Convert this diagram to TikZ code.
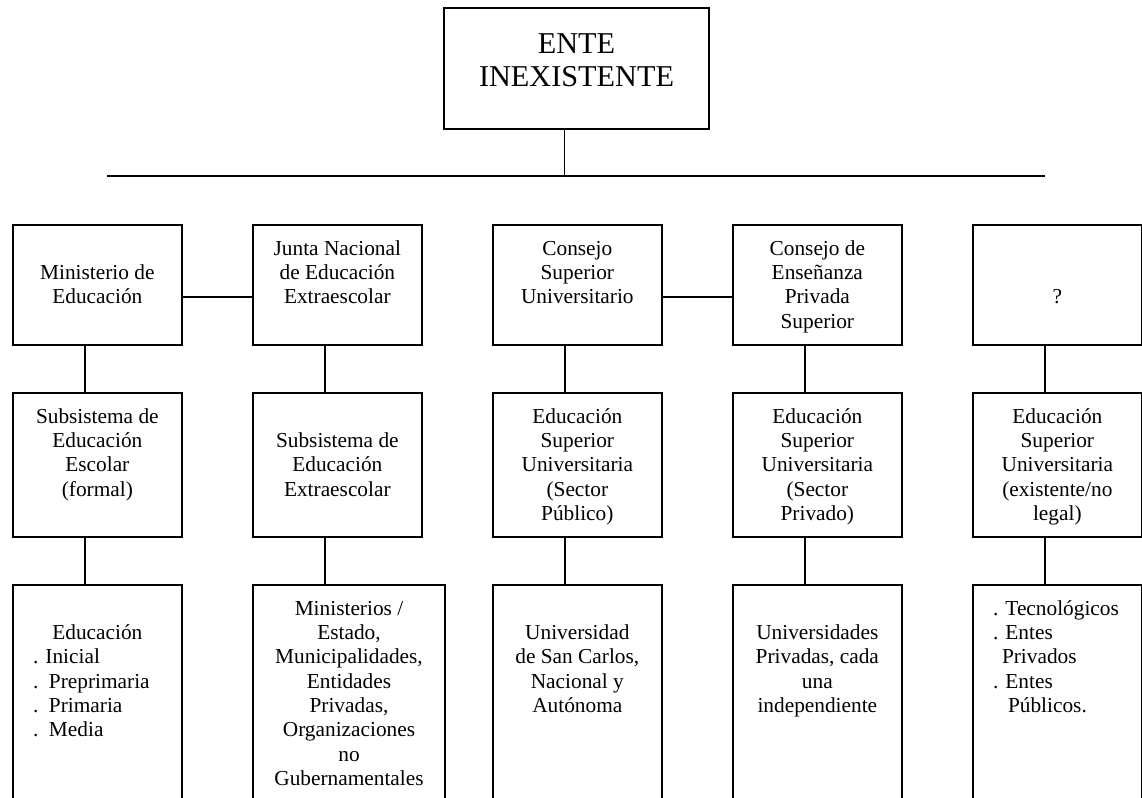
\documentclass[tikz,border=0pt]{standalone}
\usepackage{fontspec}
\setmainfont{Liberation Serif}

% text of a box: top aligned, one line per \\
\newcommand{\cajatexto}[3]{\parbox[c][#2][t]{#1}{\centering\vspace*{10.1pt}\strut#3\par}}

\begin{document}
\begin{tikzpicture}[x=0.75pt, y=-0.75pt, font=\fontsize{16}{18.2}\selectfont,
	caja/.style={draw, line width=1.5pt, inner sep=0pt, anchor=north west},
	enlace/.style={line width=1.4pt}]
	\useasboundingbox (0,0) rectangle (1142,797);
	\clip (0,0) rectangle (1142,797);
	\node (ente) [caja, font=\fontsize{22.7}{24.7}\selectfont] at (443,7) {\parbox[c][90.75pt][t]{198.75pt}{\centering\vspace*{17.2pt}\strut ENTE\\INEXISTENTE\par}};
	\coordinate (barL) at (107,176);
	\coordinate (barR) at (1045,176);
	% first row
	\node (mined) [caja] at (12,224) {\cajatexto{126.5pt}{90pt}{~\\Ministerio de\\Educación}};
	\node (junta) [caja] at (252,224) {\cajatexto{126.5pt}{90pt}{Junta Nacional\\de Educación\\Extraescolar}};
	\node (csu) [caja] at (492,224) {\cajatexto{126.5pt}{90pt}{Consejo\\Superior\\Universitario}};
	\node (ceps) [caja] at (732,224) {\cajatexto{126.5pt}{90pt}{Consejo de\\Enseñanza\\Privada\\Superior}};
	\node (incog) [caja] at (972,224) {\cajatexto{126.5pt}{90pt}{~\\~\\?}};
	% second row
	\node (subesc) [caja] at (12,392) {\cajatexto{126.5pt}{108pt}{Subsistema de\\Educación\\Escolar\\(formal)}};
	\node (subext) [caja] at (252,392) {\cajatexto{126.5pt}{108pt}{~\\Subsistema de\\Educación\\Extraescolar}};
	\node (espub) [caja] at (492,392) {\cajatexto{126.5pt}{108pt}{Educación\\Superior\\Universitaria\\(Sector\\Público)}};
	\node (espriv) [caja] at (732,392) {\cajatexto{126.5pt}{108pt}{Educación\\Superior\\Universitaria\\(Sector\\Privado)}};
	\node (esnl) [caja] at (972,392) {\cajatexto{126.5pt}{108pt}{Educación\\Superior\\Universitaria\\(existente/no\\legal)}};
	% third row, cut by the page
	\node (niveles) [caja] at (12,584) {\cajatexto{126.5pt}{169.5pt}{~\\Educación\par\raggedright\leftskip=15pt
		. Inicial\\.\ \ Preprimaria\\.\ \ Primaria\\.\ \ Media}};
	\node (entidades) [caja] at (252,584) {\cajatexto{144pt}{169.5pt}{Ministerios /\\Estado,\\Municipalidades,\\Entidades\\Privadas,\\Organizaciones\\no\\Gubernamentales}};
	\node (usac) [caja] at (492,584) {\cajatexto{126.5pt}{169.5pt}{~\\Universidad\\de San Carlos,\\Nacional y\\Autónoma}};
	\node (uprivadas) [caja] at (732,584) {\cajatexto{126.5pt}{169.5pt}{~\\Universidades\\Privadas, cada\\una\\independiente}};
	\node (otros) [caja] at (972,584) {\cajatexto{126.5pt}{169.5pt}{\raggedright\leftskip=15pt
		. Tecnológicos\\. Entes\\\hspace*{6.75pt}Privados\\. Entes\\\hspace*{11.25pt}Públicos.}};
	% connectors
	\draw[enlace] ([xshift=-9pt]ente.south) -- ([xshift=-9pt]ente.south |- barL);
	\draw[enlace] (barL) -- (barR);
	\draw[enlace] ([yshift=-9pt]mined.east) -- ([yshift=-9pt]junta.west);
	\draw[enlace] ([yshift=-9pt]csu.east) -- ([yshift=-9pt]ceps.west);
	\foreach \a/\b in {mined/subesc, junta/subext, csu/espub, ceps/espriv, incog/esnl,
		subesc/niveles, subext/entidades, espub/usac, espriv/uprivadas, esnl/otros}
		\draw[enlace] ([xshift=-9pt]\a.south) -- ([xshift=-9pt]\a.south |- \b.north);
\end{tikzpicture}
\end{document}
